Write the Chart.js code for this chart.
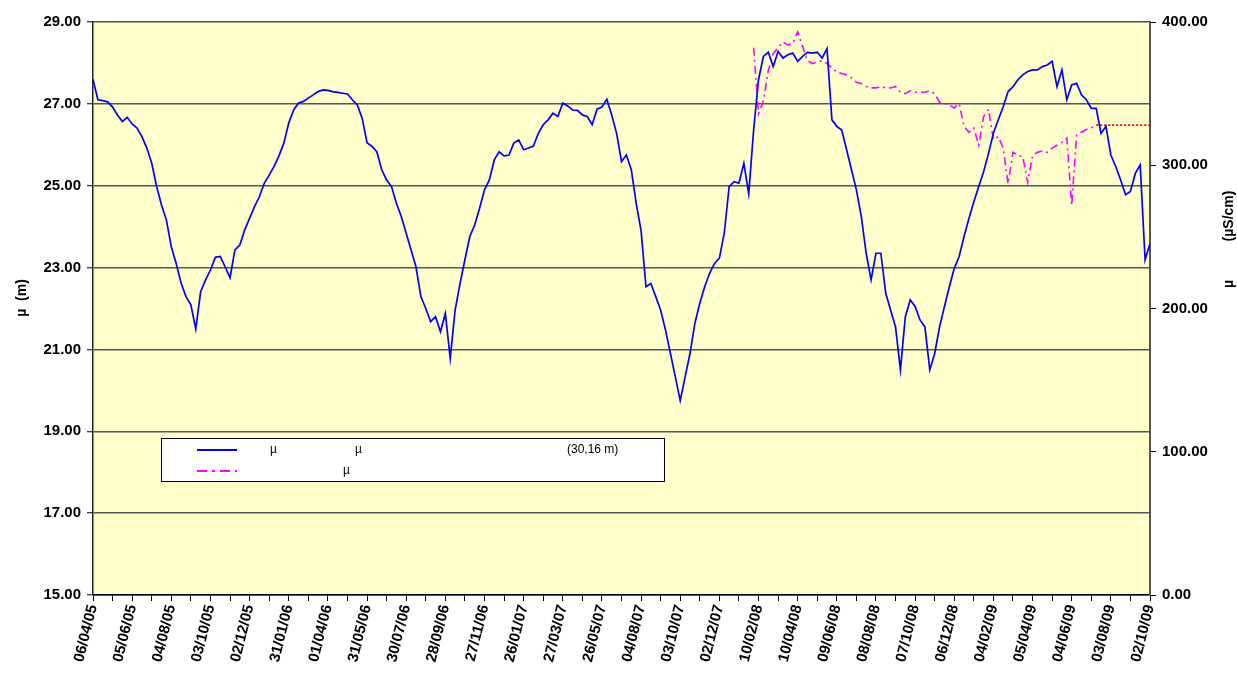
<!DOCTYPE html>
<html>
<head>
<meta charset="utf-8">
<script src="https://cdn.jsdelivr.net/npm/chart.js@4.4.1/dist/chart.umd.min.js"></script>
<style>
  html, body { margin: 0; padding: 0; background: #fff; }
  canvas { display: block; }
</style>
</head>
<body>
<canvas id="chart" width="1237" height="673"></canvas>
<script>
// tick labels, one every 8 readings
const dateLabels = [
  '06/04/05', '05/06/05', '04/08/05', '03/10/05', '02/12/05', '31/01/06', '01/04/06',
  '31/05/06', '30/07/06', '28/09/06', '27/11/06', '26/01/07', '27/03/07', '26/05/07',
  '04/08/07', '03/10/07', '02/12/07', '10/02/08', '10/04/08', '09/06/08', '08/08/08',
  '07/10/08', '06/12/08', '04/02/09', '05/04/09', '04/06/09', '03/08/09', '02/10/09'
];

// water level (m), left axis
const level = [
  27.60, 27.10, 27.08, 27.05, 26.92, 26.73, 26.57, 26.67, 26.51, 26.41,
  26.20, 25.92, 25.55, 24.98, 24.53, 24.16, 23.51, 23.10, 22.62, 22.29,
  22.09, 21.50, 22.41, 22.70, 22.94, 23.25, 23.27, 23.02, 22.75, 23.43,
  23.55, 23.92, 24.20, 24.49, 24.73, 25.06, 25.26, 25.47, 25.73, 26.04,
  26.53, 26.85, 27.02, 27.06, 27.14, 27.22, 27.30, 27.34, 27.33, 27.30,
  27.28, 27.26, 27.24, 27.10, 26.98, 26.65, 26.05, 25.96, 25.83, 25.39,
  25.14, 24.98, 24.57, 24.25, 23.84, 23.43, 23.02, 22.29, 22.00, 21.68,
  21.80, 21.43, 21.88, 20.78, 21.96, 22.61, 23.19, 23.76, 24.04, 24.45,
  24.90, 25.14, 25.63, 25.83, 25.73, 25.75, 26.04, 26.12, 25.88, 25.92,
  25.97, 26.28, 26.49, 26.61, 26.77, 26.69, 27.02, 26.95, 26.85, 26.84,
  26.73, 26.69, 26.49, 26.87, 26.92, 27.11, 26.73, 26.28, 25.59, 25.75,
  25.39, 24.57, 23.90, 22.53, 22.61, 22.29, 21.96, 21.47, 20.90, 20.33,
  19.75, 20.33, 20.90, 21.64, 22.13, 22.53, 22.86, 23.10, 23.23, 23.84,
  24.98, 25.10, 25.06, 25.55, 24.80, 26.36, 27.59, 28.16, 28.26, 27.91,
  28.28, 28.12, 28.20, 28.24, 28.04, 28.16, 28.26, 28.24, 28.26, 28.12,
  28.35, 26.61, 26.45, 26.36, 25.88, 25.39, 24.90, 24.25, 23.35, 22.70,
  23.35, 23.35, 22.37, 21.96, 21.55, 20.50, 21.80, 22.21, 22.05, 21.72,
  21.55, 20.50, 20.90, 21.55, 22.05, 22.53, 22.98, 23.27, 23.76, 24.20,
  24.61, 24.98, 25.34, 25.79, 26.28, 26.61, 26.93, 27.30, 27.42, 27.59,
  27.71, 27.79, 27.83, 27.83, 27.91, 27.95, 28.04, 27.42, 27.83, 27.10,
  27.46, 27.50, 27.22, 27.10, 26.89, 26.89, 26.28, 26.45, 25.75, 25.47,
  25.14, 24.78, 24.86, 25.30, 25.51, 23.19, 23.59
];

// conductivity (µS/cm), right axis, starts at reading 135
const ecStart = 135;
const conductivity = [
  382, 336, 345, 366, 378, 382, 386, 384, 385, 393,
  383, 373, 371, 372, 373, 371, 368, 365, 364, 363,
  361, 358, 357, 355, 354, 354, 355, 354, 354, 355,
  351, 350, 352, 351, 351, 351, 352, 350, 344, 343,
  342, 340, 343, 327, 323, 326, 314, 334, 339, 318,
  320, 312, 287, 309, 307, 306, 288, 307, 309, 310,
  309, 312, 314, 316, 319, 272, 321, 323, 325, 326,
  328
];

// red dotted level at the end
const ecLimit = 328;
const ecLimitFrom = 205;
const ecLimitTo = 216;

const levelData = level.map((v, i) => ({ x: i, y: v }));
const ecData = conductivity.map((v, k) => ({ x: ecStart + k, y: v }));
const limitData = [];
for (let i = ecLimitFrom; i <= ecLimitTo; i++) limitData.push({ x: i, y: ecLimit });

const FONT = '"Liberation Sans", Arial, sans-serif';

const decor = {
  id: 'decor',
  beforeDraw(chart) {
    const { ctx, chartArea: a } = chart;
    ctx.save();
    ctx.fillStyle = '#ffffff';
    ctx.fillRect(0, 0, chart.width, chart.height);
    ctx.fillStyle = '#FFFFCC';
    ctx.fillRect(a.left, a.top, a.right - a.left, a.bottom - a.top);
    ctx.restore();
  },
  afterDraw(chart) {
    const { ctx } = chart;
    ctx.save();

    // axis titles
    ctx.fillStyle = '#000';
    ctx.font = 'bold 14px ' + FONT;
    ctx.textAlign = 'center';
    ctx.textBaseline = 'middle';
    ctx.save();
    ctx.translate(22, 298);
    ctx.rotate(-Math.PI / 2);
    ctx.fillText('µ  (m)', 0, 0);
    ctx.restore();
    ctx.save();
    ctx.translate(1229, 284);
    ctx.rotate(-Math.PI / 2);
    ctx.fillText('µ', 0, 0);
    ctx.fillText('(µS/cm)', 68, 0);
    ctx.restore();

    // legend box
    ctx.fillStyle = '#ffffff';
    ctx.fillRect(161.5, 438.5, 503, 43);
    ctx.strokeStyle = '#000';
    ctx.lineWidth = 1;
    ctx.strokeRect(161.5, 438.5, 503, 43);

    ctx.lineWidth = 2;
    ctx.strokeStyle = '#0000FF';
    ctx.beginPath();
    ctx.moveTo(197, 450);
    ctx.lineTo(237, 450);
    ctx.stroke();

    ctx.strokeStyle = '#FF00FF';
    ctx.setLineDash([10, 5, 3, 5]);
    ctx.beginPath();
    ctx.moveTo(197, 471);
    ctx.lineTo(237, 471);
    ctx.stroke();
    ctx.setLineDash([]);

    ctx.fillStyle = '#000';
    ctx.font = '12px ' + FONT;
    ctx.textAlign = 'left';
    ctx.fillText('µ', 270, 450);
    ctx.fillText('µ', 355, 450);
    ctx.fillText('(30,16 m)', 567, 450);
    ctx.fillText('µ', 343, 471);
    ctx.restore();
  }
};

const tickFont = { family: FONT, size: 15, weight: 'bold' };

new Chart(document.getElementById('chart'), {
  type: 'line',
  data: {
    datasets: [
      {
        label: 'level',
        data: levelData,
        yAxisID: 'y',
        borderColor: '#0000FF',
        borderWidth: 1.7,
        pointRadius: 0,
        tension: 0
      },
      {
        label: 'conductivity',
        data: ecData,
        yAxisID: 'y2',
        borderColor: '#FF00FF',
        borderWidth: 1.6,
        borderDash: [8, 4, 2, 4],
        pointRadius: 0,
        tension: 0
      },
      {
        label: 'limit',
        data: limitData,
        yAxisID: 'y2',
        borderColor: '#FF0000',
        borderWidth: 1.6,
        borderDash: [2, 2],
        pointRadius: 0
      }
    ]
  },
  options: {
    responsive: false,
    animation: false,
    layout: { padding: { top: 22, left: 0, right: 0, bottom: 0 } },
    plugins: { legend: { display: false }, tooltip: { enabled: false } },
    scales: {
      x: {
        type: 'linear',
        min: 0,
        max: level.length - 1,
        ticks: {
          stepSize: 4,
          autoSkip: false,
          minRotation: 76,
          maxRotation: 76,
          padding: 2,
          color: '#000',
          font: { family: FONT, size: 15, weight: 'bold' },
          callback: v => (v % 8 === 0 ? dateLabels[v / 8] : '')
        },
        grid: { drawOnChartArea: false, tickLength: 6, color: '#000' },
        border: { color: '#000', width: 1.5 },
        afterFit: s => { s.height = 78; }
      },
      y: {
        position: 'left',
        min: 15,
        max: 29,
        ticks: { stepSize: 2, padding: 6, color: '#000', font: tickFont, callback: v => v.toFixed(2) },
        grid: { color: '#555', lineWidth: 1.5, tickLength: 6, tickColor: '#000', tickWidth: 1 },
        border: { color: '#222', width: 1.5 },
        afterFit: s => { s.width = 93; }
      },
      y2: {
        position: 'right',
        min: 0,
        max: 400,
        ticks: { stepSize: 100, padding: 6, color: '#000', font: tickFont, callback: v => v.toFixed(2) },
        grid: { drawOnChartArea: false, tickLength: 6, color: '#000' },
        border: { color: '#555', width: 2 },
        afterFit: s => { s.width = 87; }
      }
    }
  },
  plugins: [decor]
});
</script>
</body>
</html>
